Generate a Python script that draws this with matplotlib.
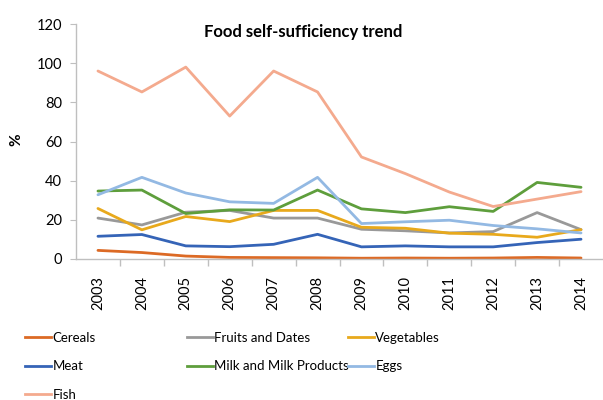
import matplotlib
matplotlib.use("Agg")
import matplotlib.pyplot as plt
from matplotlib.lines import Line2D

plt.rcParams["font.family"] = ["Lato", "DejaVu Sans"]

YEARS = ["2003", "2004", "2005", "2006", "2007", "2008",
         "2009", "2010", "2011", "2012", "2013", "2014"]

CEREALS = [4.4, 3.3, 1.5, 0.8, 0.7, 0.6, 0.4, 0.5, 0.4, 0.5, 0.8, 0.5]
FRUITS = [20.9, 17.4, 23.9, 24.8, 20.9, 20.9, 15.2, 14.4, 13.3, 14.0, 23.7, 15.0]
VEGETABLES = [25.8, 14.9, 21.7, 19.1, 24.8, 24.8, 16.2, 15.7, 13.2, 12.6, 11.1, 15.0]
MEAT = [11.6, 12.5, 6.7, 6.3, 7.5, 12.6, 6.2, 6.7, 6.2, 6.2, 8.4, 10.1]
MILK = [34.7, 35.2, 23.2, 25.1, 25.0, 35.2, 25.6, 23.7, 26.7, 24.3, 39.1, 36.6]
EGGS = [32.8, 41.7, 33.7, 29.2, 28.4, 41.7, 18.1, 19.0, 19.8, 17.1, 15.4, 13.3]
FISH = [96.0, 85.3, 98.0, 73.0, 96.0, 85.3, 52.1, 43.6, 34.2, 26.8, 30.6, 34.4]

SERIES = [
    ("Cereals", CEREALS, "#dc6a25"),
    ("Fruits and Dates", FRUITS, "#999999"),
    ("Vegetables", VEGETABLES, "#e8a91c"),
    ("Meat", MEAT, "#3564b7"),
    ("Milk and Milk Products", MILK, "#5e9e3c"),
    ("Eggs", EGGS, "#93b9e3"),
    ("Fish", FISH, "#f4aa8e"),
]

# legend grid (pixels): three columns, rows filled left to right
LEG_COLS = [25, 187, 348]
LEG_ROWS = [338, 366.5, 395]


def main():
    fig = plt.figure(figsize=(6.03, 4.0), dpi=100)
    W, H = 603, 400
    ax = fig.add_axes([76 / W, (400 - 259) / H, 527 / W, 235 / H])

    x = range(len(YEARS))
    for i, (name, vals, color) in enumerate(SERIES):
        ax.plot(x, vals, color=color, lw=2.0, solid_capstyle="round")
        h = Line2D([], [], color=color, lw=2.0)
        fig.legend([h], [name], loc="center left",
                   bbox_to_anchor=(LEG_COLS[i % 3] / W, 1 - LEG_ROWS[i // 3] / H),
                   frameon=False, fontsize=9.5, handlelength=1.95,
                   handletextpad=0.12, borderaxespad=0, borderpad=0)

    ax.set_xlim(-0.5, len(YEARS) - 0.5)
    ax.set_ylim(0, 120)
    ax.set_yticks(range(0, 121, 20))
    ax.set_xticks(list(x))
    ax.set_xticklabels(YEARS, rotation=90, fontsize=10.5)
    ax.tick_params(axis="x", length=0, pad=12)
    ax.set_xticks([i + 0.5 for i in range(len(YEARS) - 1)], minor=True)
    ax.tick_params(axis="x", which="minor", length=5, color="#bfbfbf", width=1)
    ax.tick_params(axis="y", length=4, color="#bfbfbf", labelsize=10.5, pad=6)

    for side in ["top", "right"]:
        ax.spines[side].set_visible(False)
    for side in ["left", "bottom"]:
        ax.spines[side].set_color("#bfbfbf")
        ax.spines[side].set_linewidth(1)

    fig.text(16 / W, 1 - 140 / H, "%", rotation=90, fontsize=11, fontweight="bold",
             ha="center", va="center")
    fig.text(303.5 / W, 1 - 31.5 / H, "Food self-sufficiency trend", fontsize=12,
             fontweight="bold", ha="center", va="center")

    fig.savefig("out.png", dpi=100)
    plt.close(fig)


if __name__ == "__main__":
    main()
